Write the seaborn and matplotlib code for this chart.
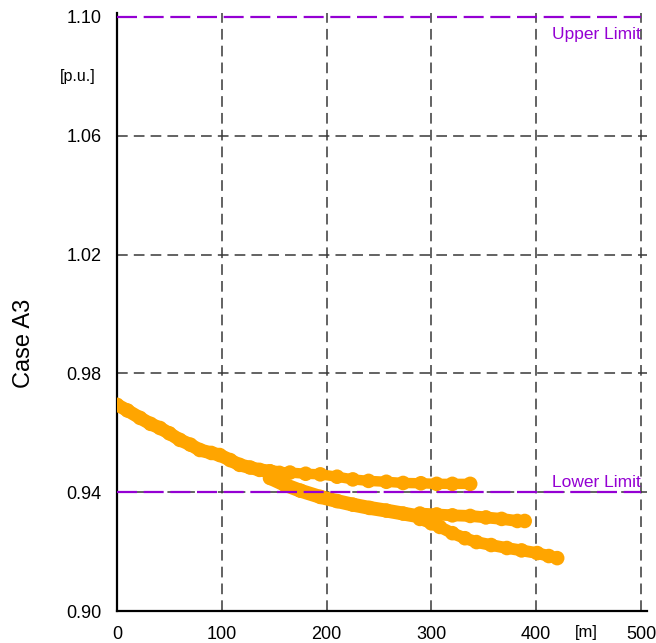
import matplotlib
matplotlib.use("Agg")
import matplotlib.pyplot as plt
import seaborn as sns
import pandas as pd
from matplotlib.ticker import MultipleLocator

sns.set_theme(style="white")
plt.rcParams['font.family'] = ['Liberation Sans', 'DejaVu Sans']
plt.rcParams['text.color'] = 'black'

# Trunk (shared) branch
trunk_x = [0, 10, 22, 32, 41, 50, 60, 70, 79, 90, 98, 108, 117, 127, 136, 146, 155]
trunk_y = [0.9694, 0.9675, 0.9650, 0.9630, 0.9616, 0.9598, 0.9576, 0.9560, 0.9542,
           0.9532, 0.9525, 0.9508, 0.9492, 0.9483, 0.9475, 0.9470, 0.9465]
# Upper branch (stays above lower limit)
upper_x = [146, 165, 180, 194, 210, 225, 240, 257, 273, 290, 305, 320, 337]
upper_y = [0.9470, 0.9466, 0.9462, 0.9460, 0.9452, 0.9443, 0.9438, 0.9435, 0.9431,
           0.9430, 0.9428, 0.9428, 0.9428]
# Lower branch
lower_x = [146, 160, 175, 194, 210, 225, 241, 257, 273, 289, 300]
lower_y = [0.9448, 0.9425, 0.9405, 0.9384, 0.9370, 0.9358, 0.9347, 0.9338, 0.9328,
           0.9318, 0.9315]
# Middle tail branch
mid_x = [289, 305, 320, 337, 352, 367, 382, 389]
mid_y = [0.9328, 0.9325, 0.9322, 0.9320, 0.9315, 0.9310, 0.9303, 0.9303]
# Lowest tail branch
low_x = [289, 300, 308, 320, 332, 343, 357, 372, 386, 401, 412, 420]
low_y = [0.9310, 0.9295, 0.9283, 0.9262, 0.9245, 0.9232, 0.9222, 0.9212, 0.9204,
         0.9195, 0.9185, 0.9178]

lower_limit = 0.94
upper_limit = 1.10

branches = [("trunk", trunk_x, trunk_y), ("upper", upper_x, upper_y),
            ("lower", lower_x, lower_y), ("mid", mid_x, mid_y), ("low", low_x, low_y)]
frames = [pd.DataFrame({"x": bx, "y": by, "branch": name}) for name, bx, by in branches]
df = pd.concat(frames, ignore_index=True)

orange = "#FFA500"
purple = "#9400D3"
gridc = "#383838"

fig = plt.figure(figsize=(6.56, 6.43), dpi=100)
ax = fig.add_axes([117/656, (643-611)/643, (647-117)/656, (611-13)/643])

ax.set_xlim(0, 505.7)
ax.set_ylim(0.90, 1.1013)

# grid lines (dashed)
for gx in [100, 200, 300, 400, 500]:
    ax.axvline(gx, color=gridc, lw=1.1, ls=(0, (7, 4)), zorder=1)
for gy in [0.94, 0.98, 1.02, 1.06]:
    ax.axhline(gy, color=gridc, lw=1.1, ls=(0, (7, 4)), zorder=1)

# data bands
widths = {"trunk": 9.5, "upper": 7.5, "lower": 10, "mid": 8.5, "low": 8.5}
for name, bx, by in branches:
    sub = df[df["branch"] == name]
    sns.lineplot(data=sub, x="x", y="y", ax=ax, color=orange, lw=widths[name],
                 sort=False, estimator=None, zorder=3,
                 solid_capstyle="round", solid_joinstyle="round")
sns.scatterplot(data=df, x="x", y="y", ax=ax, color=orange, s=110,
                edgecolor="none", zorder=3, legend=False)

# limit lines
ax.plot([0, 500], [upper_limit, upper_limit], color=purple, lw=1.6, ls=(0, (9, 3)), zorder=4, clip_on=False)
ax.plot([0, 500], [lower_limit, lower_limit], color=purple, lw=1.6, ls=(0, (9, 3)), zorder=4)
ax.text(499.5, 1.0939, "Upper Limit", color=purple, fontsize=12.5, ha="right", va="center")
ax.text(499.5, 0.9434, "Lower Limit", color=purple, fontsize=12.5, ha="right", va="center")

# axes styling
for s in ["top", "right"]:
    ax.spines[s].set_visible(False)
for s in ["left", "bottom"]:
    ax.spines[s].set_color("black")
    ax.spines[s].set_linewidth(1.6)

ax.xaxis.set_minor_locator(MultipleLocator(50))
ax.yaxis.set_minor_locator(MultipleLocator(0.02))
ax.set_yticks([0.90, 0.94, 0.98, 1.02, 1.06, 1.10])
ax.set_yticklabels(["0.90", "0.94", "0.98", "1.02", "1.06", "1.10"])
ax.set_xticks([0, 100, 200, 300, 400, 500])
ax.set_xticklabels(["0", "100", "200", "300", "400", "500"])
ax.tick_params(axis="both", which="both", direction="in", color="black",
               labelsize=13, colors="black", labelcolor="black")
ax.tick_params(axis="both", which="both", length=6, width=1)
ax.tick_params(axis="y", which="both", pad=11)
ax.tick_params(axis="x", which="both", pad=11)

ax.set_xlabel("")
ax.set_ylabel("")
fig.text(24/656, 1 - 343/643, "Case A3", rotation=90, fontsize=17, ha="center", va="center", color="black")
fig.text(78/656, 1 - 77/643, "[p.u.]", fontsize=11.5, ha="center", va="center", color="black")
fig.text(586/656, 1 - 633/643, "[m]", fontsize=12, ha="center", va="center", color="black")

fig.savefig("out.png", dpi=100)
